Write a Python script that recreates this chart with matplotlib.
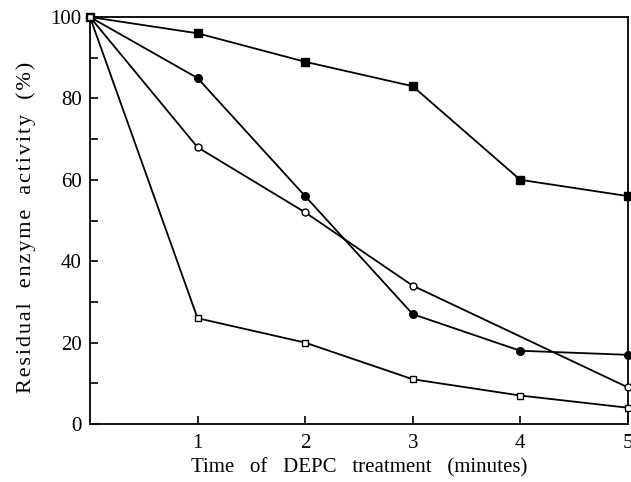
import matplotlib
matplotlib.use("Agg")
import matplotlib.pyplot as plt
from matplotlib.ticker import MultipleLocator

plt.rcParams['font.family'] = ['Liberation Serif', 'DejaVu Serif']

minutes = [0, 1, 2, 3, 4, 5]
filled_squares = [100, 96, 89, 83, 60, 56]
filled_circles = [100, 85, 56, 27, 18, 17]
open_circles_x = [0, 1, 2, 3, 5]
open_circles = [100, 68, 52, 34, 9]
open_squares = [100, 26, 20, 11, 7, 4]

xlabel = 'Time   of   DEPC   treatment   (minutes)'
ylabel = 'Residual enzyme activity (%)'

fig = plt.figure(figsize=(6.31, 4.82), dpi=100)
ax = fig.add_axes([0.1426, 0.1203, 0.8524, 0.8444])

lw = 1.3
ax.plot(minutes, filled_squares, '-s', color='black', lw=lw, ms=5.5,
        mfc='black', clip_on=False, zorder=3)
ax.plot(minutes, filled_circles, '-o', color='black', lw=lw, ms=5.5,
        mfc='black', clip_on=False, zorder=3)
ax.plot(open_circles_x, open_circles, '-o', color='black', lw=lw, ms=5,
        mfc='white', mew=1, clip_on=False, zorder=3)
ax.plot(minutes, open_squares, '-s', color='black', lw=lw, ms=5,
        mfc='white', mew=1, clip_on=False, zorder=3)

ax.set_xlim(0, 5)
ax.set_ylim(0, 100)
ax.set_xticks([1, 2, 3, 4, 5])
ax.set_yticks([0, 20, 40, 60, 80, 100])
ax.yaxis.set_minor_locator(MultipleLocator(10))
ax.tick_params(which='both', direction='in', labelsize=15, width=1.2, length=6)
ax.tick_params(axis='x', pad=7)
ax.tick_params(axis='y', pad=6)

for s in ax.spines.values():
    s.set_linewidth(1.3)

# letter-spaced y label, as in the scanned figure
spaced = '\u200a'.join(ylabel).replace(' ', '  ')
ax.set_xlabel(xlabel, fontsize=15, labelpad=4)
ax.set_ylabel(spaced, fontsize=16)
ax.yaxis.set_label_coords(-0.100, 0.484)

fig.savefig('out.png', dpi=100)
